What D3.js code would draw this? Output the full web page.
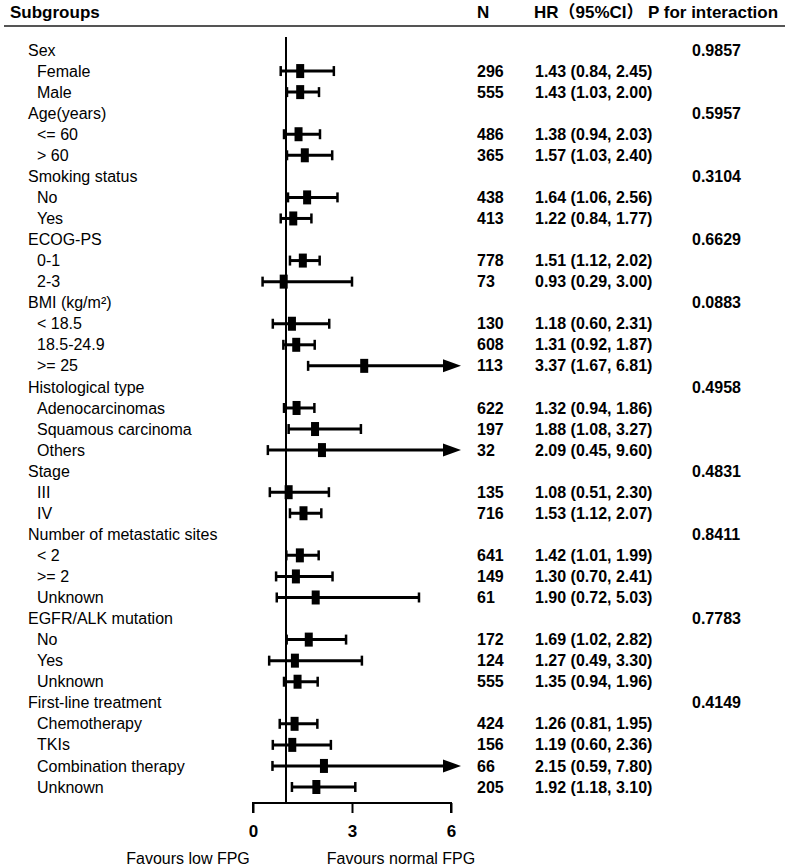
<!DOCTYPE html>
<html>
<head>
<meta charset="utf-8">
<script src="https://cdn.jsdelivr.net/npm/d3@7"></script>
<style>
  body { margin: 0; background: #fff; }
  text { font-family: "Liberation Sans", Arial, "Noto Sans CJK SC", sans-serif; fill: #000; }
  .narrow { font-family: "Liberation Sans Narrow", "Liberation Sans", Arial, sans-serif; }
</style>
</head>
<body>
<svg id="chart"></svg>
<script>
// rows of the forest plot, top to bottom (level 0 = group heading, 1 = subgroup)
const labels = ["Sex", "Female", "Male",
  "Age(years)", "<= 60", "> 60",
  "Smoking status", "No", "Yes",
  "ECOG-PS", "0-1", "2-3",
  "BMI (kg/m²)", "< 18.5", "18.5-24.9", ">= 25",
  "Histological type", "Adenocarcinomas", "Squamous carcinoma", "Others",
  "Stage", "III", "IV",
  "Number of metastatic sites", "< 2", ">= 2", "Unknown",
  "EGFR/ALK mutation", "No", "Yes", "Unknown",
  "First-line treatment", "Chemotherapy", "TKIs", "Combination therapy", "Unknown"];
const levels = [0,1,1, 0,1,1, 0,1,1, 0,1,1, 0,1,1,1, 0,1,1,1, 0,1,1, 0,1,1,1, 0,1,1,1, 0,1,1,1,1];
const nValues = [null,296,555, null,486,365, null,438,413, null,778,73, null,130,608,113,
  null,622,197,32, null,135,716, null,641,149,61, null,172,124,555, null,424,156,66,205];
const hr = [null,1.43,1.43, null,1.38,1.57, null,1.64,1.22, null,1.51,0.93, null,1.18,1.31,3.37,
  null,1.32,1.88,2.09, null,1.08,1.53, null,1.42,1.30,1.90, null,1.69,1.27,1.35, null,1.26,1.19,2.15,1.92];
const lower = [null,0.84,1.03, null,0.94,1.03, null,1.06,0.84, null,1.12,0.29, null,0.60,0.92,1.67,
  null,0.94,1.08,0.45, null,0.51,1.12, null,1.01,0.70,0.72, null,1.02,0.49,0.94, null,0.81,0.60,0.59,1.18];
const upper = [null,2.45,2.00, null,2.03,2.40, null,2.56,1.77, null,2.02,3.00, null,2.31,1.87,6.81,
  null,1.86,3.27,9.60, null,2.30,2.07, null,1.99,2.41,5.03, null,2.82,3.30,1.96, null,1.95,2.36,7.80,3.10];
const pInteraction = ["0.9857",null,null, "0.5957",null,null, "0.3104",null,null, "0.6629",null,null,
  "0.0883",null,null,null, "0.4958",null,null,null, "0.4831",null,null, "0.8411",null,null,null,
  "0.7783",null,null,null, "0.4149",null,null,null,null];
const axisTicks = [0, 3, 6];

const rows = labels.map((d, i) => ({label: d, level: levels[i], n: nValues[i],
  hr: hr[i], lo: lower[i], hi: upper[i], p: pInteraction[i]}));

const width = 785, height = 868;
const svg = d3.select("#chart").attr("width", width).attr("height", height);

const x = d3.scaleLinear().domain([0, 6]).range([253, 451]);
const y = d3.scalePoint().domain(d3.range(rows.length)).range([50, 787]);

// header
const head = svg.append("g").style("font-weight", "bold").style("font-size", "17px");
head.append("text").attr("x", 10).attr("y", 18).text("Subgroups");
head.append("text").attr("x", 477).attr("y", 18).text("N");
head.append("text").attr("x", 534).attr("y", 18).text("HR（95%CI）");
head.append("text").attr("x", 648).attr("y", 18).text("P for interaction");
svg.append("line").attr("x1", 4).attr("x2", width).attr("y1", 26).attr("y2", 26)
  .attr("stroke", "#555").attr("stroke-width", 2);

// line of no effect
svg.append("line").attr("x1", x(1)).attr("x2", x(1)).attr("y1", 37).attr("y2", 803)
  .attr("stroke", "#000").attr("stroke-width", 2);

// row texts
const rowG = svg.append("g").selectAll("g").data(rows).join("g")
  .attr("transform", (d, i) => `translate(0,${y(i)})`);

rowG.append("text").attr("x", d => d.level ? 37 : 28).attr("dy", "0.35em")
  .style("font-size", "16px").text(d => d.label);
rowG.filter(d => d.n != null).append("text").attr("x", 477).attr("dy", "0.35em")
  .style("font-size", "16px").style("font-weight", "bold").text(d => d.n);
rowG.filter(d => d.hr != null).append("text").attr("x", 535).attr("dy", "0.35em")
  .style("font-size", "16px").style("font-weight", "bold")
  .text(d => `${d.hr.toFixed(2)} (${d.lo.toFixed(2)}, ${d.hi.toFixed(2)})`);
rowG.filter(d => d.p != null).append("text").attr("class", "narrow").attr("x", 692).attr("dy", "0.35em")
  .style("font-size", "16px").style("font-weight", "bold").text(d => d.p);

// confidence intervals
const ci = rowG.filter(d => d.hr != null);
ci.append("line").attr("x1", d => x(d.lo)).attr("x2", d => x(Math.min(d.hi, 6)))
  .attr("stroke", "#000").attr("stroke-width", 3);
ci.append("line").attr("x1", d => x(d.lo)).attr("x2", d => x(d.lo))
  .attr("y1", -5).attr("y2", 5).attr("stroke", "#000").attr("stroke-width", 2.5);
ci.filter(d => d.hi <= 6).append("line").attr("x1", d => x(d.hi)).attr("x2", d => x(d.hi))
  .attr("y1", -5).attr("y2", 5).attr("stroke", "#000").attr("stroke-width", 2.5);
ci.filter(d => d.hi > 6).append("path")
  .attr("d", `M${x(6) - 8},-6.5L${x(6) + 10},0L${x(6) - 8},6.5Z`).attr("fill", "#000");
ci.append("rect").attr("x", d => x(d.hr) - 4).attr("y", -7).attr("width", 8).attr("height", 14)
  .attr("fill", "#000");

// x axis
const axisG = svg.append("g").attr("transform", "translate(0,803)")
  .call(d3.axisBottom(x).tickValues(axisTicks).tickSize(10).tickPadding(12).tickFormat(d3.format("d")));
axisG.select(".domain").attr("stroke-width", 2).attr("d", `M${x(0)},10V0H${x(6)}V10`);
axisG.selectAll(".tick line").attr("stroke-width", 2);
axisG.selectAll(".tick text").style("font-size", "17px").style("font-weight", "bold")
  .style("font-family", "'Liberation Sans', Arial, sans-serif");

svg.append("text").attr("x", 188).attr("y", 864).attr("text-anchor", "middle")
  .style("font-size", "16px").text("Favours low FPG");
svg.append("text").attr("x", 401).attr("y", 864).attr("text-anchor", "middle")
  .style("font-size", "16px").text("Favours normal FPG");
</script>
</body>
</html>
